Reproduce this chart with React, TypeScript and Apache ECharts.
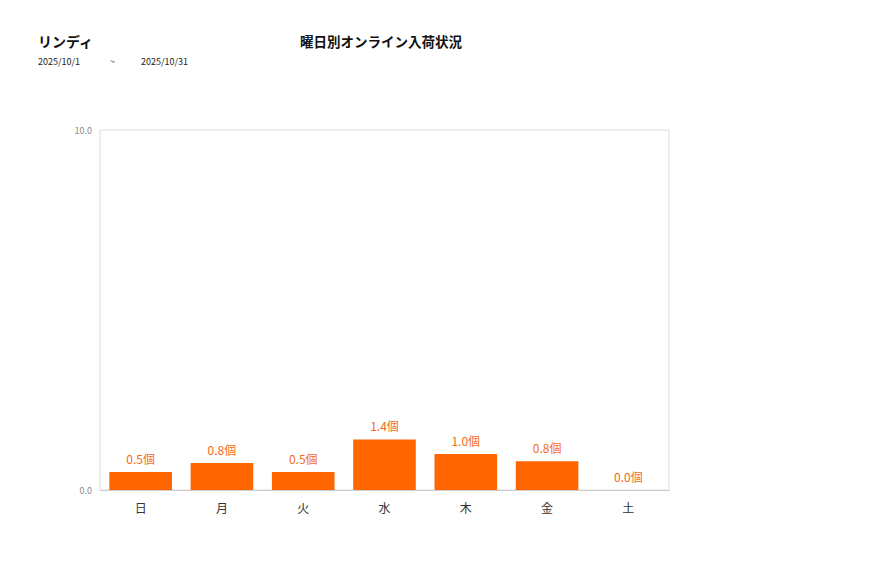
import React, { useEffect, useRef } from "react";
import * as echarts from "echarts";

const categories = ["日", "月", "火", "水", "木", "金", "土"];
const values = [0.5, 0.75, 0.5, 1.4, 1.0, 0.8, 0.0];
const storeName = "リンディ";
const chartTitle = "曜日別オンライン入荷状況";
const dateFrom = "2025/10/1";
const dateTo = "2025/10/31";

const FONT = "'Noto Sans CJK JP', 'Noto Sans', sans-serif";

export default function App() {
  const ref = useRef<HTMLDivElement>(null);
  useEffect(() => {
    if (!ref.current) return;
    const chart = echarts.init(ref.current, undefined, { renderer: "svg" });
    chart.setOption({
      animation: false,
      backgroundColor: "#ffffff",
      textStyle: { fontFamily: FONT },
      title: [
        {
          text: storeName,
          left: 33,
          top: 29,
          textStyle: { fontSize: 14, fontWeight: "bold", color: "#111", fontFamily: FONT },
        },
        {
          text: chartTitle,
          left: 376,
          textAlign: "center",
          top: 29,
          textStyle: { fontSize: 13.5, fontWeight: "bold", color: "#111", fontFamily: FONT },
        },
      ],
      graphic: [
        {
          type: "text",
          left: 38,
          top: 57,
          style: { text: dateFrom, fontSize: 9, fill: "#222", fontFamily: FONT },
        },
        {
          type: "text",
          left: 110,
          top: 57,
          style: { text: "~", fontSize: 9, fill: "#222", fontFamily: FONT },
        },
        {
          type: "text",
          left: 141,
          top: 57,
          style: { text: dateTo, fontSize: 9, fill: "#222", fontFamily: FONT },
        },
      ],
      grid: {
        left: 100,
        top: 130,
        width: 569,
        height: 360,
        show: true,
        borderColor: "#dddddd",
        borderWidth: 1,
        backgroundColor: "transparent",
      },
      xAxis: {
        type: "category",
        data: categories,
        axisLine: { show: true, lineStyle: { color: "#cccccc" } },
        axisTick: { show: false },
        axisLabel: { color: "#333", fontSize: 12, margin: 11, fontFamily: FONT },
      },
      yAxis: {
        type: "value",
        min: 0,
        max: 10,
        interval: 10,
        axisLine: { show: false },
        axisTick: { show: false },
        splitLine: { show: false },
        axisLabel: {
          color: "#888",
          fontSize: 9,
          margin: 8,
          fontFamily: FONT,
          formatter: (v: number) => v.toFixed(1),
        },
      },
      series: [
        {
          type: "bar",
          data: values,
          barWidth: "77%",
          itemStyle: { color: "#ff6600" },
          label: {
            show: true,
            position: "top",
            distance: 8,
            color: "#f26b1d",
            fontSize: 12,
            fontFamily: FONT,
            formatter: (p: any) => `${Number(p.value).toFixed(1)}個`,
          },
        },
      ],
    });
    return () => chart.dispose();
  }, []);
  return (
    <div
      ref={ref}
      style={{ position: "absolute", left: 0, top: 0, width: 877, height: 578 }}
    />
  );
}
